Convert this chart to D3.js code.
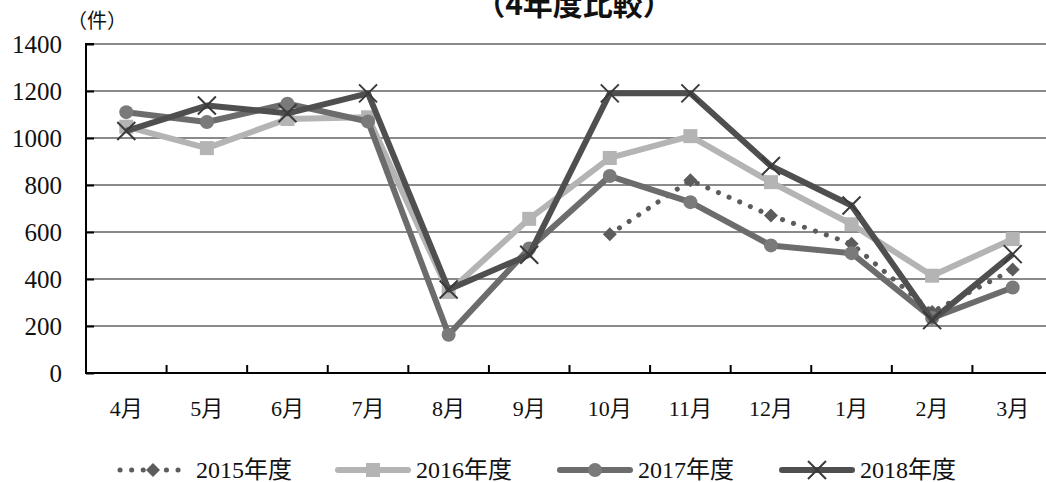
<!DOCTYPE html>
<html>
<head>
<meta charset="utf-8">
<script src="https://cdn.jsdelivr.net/npm/d3@7"></script>
<style>
  html, body { margin: 0; padding: 0; background: #fff; }
  svg { display: block; }
  .serif { font-family: "Liberation Serif", "DejaVu Serif", "Noto Sans CJK JP", serif; }
  .gothic { font-family: "Noto Sans CJK JP", "Noto Sans", sans-serif; }
</style>
</head>
<body>
<svg id="chart" width="1046" height="482"></svg>
<script>
const months = ["4月","5月","6月","7月","8月","9月","10月","11月","12月","1月","2月","3月"];
const yTicks = [0, 200, 400, 600, 800, 1000, 1200, 1400];
const seriesNames = ["2015年度","2016年度","2017年度","2018年度"];
const v2015 = [null, null, null, null, null, null, 590, 820, 670, 550, 260, 440];
const v2016 = [1048, 957, 1081, 1088, 345, 656, 915, 1008, 812, 633, 414, 570];
const v2017 = [1110, 1068, 1146, 1070, 163, 530, 838, 727, 543, 510, 234, 364];
const v2018 = [1030, 1138, 1105, 1190, 355, 503, 1190, 1190, 881, 713, 225, 506];
const titleText = "（4年度比較）";
const unitText = "（件）";

const svg = d3.select("#chart");

const x = d3.scaleBand().domain(months).range([86, 1053]).padding(0);
const y = d3.scaleLinear().domain([0, 1400]).range([373, 44]);

// title
svg.append("text").attr("class", "gothic").attr("x", 574).attr("y", 15).attr("text-anchor", "middle")
  .attr("font-weight", "bold").attr("font-size", 30).attr("fill", "#111").text(titleText);
svg.append("text").attr("class", "gothic").attr("x", 97).attr("y", 28).attr("text-anchor", "middle")
  .attr("font-size", 20).attr("fill", "#111").text(unitText);

// gridlines
svg.append("g").selectAll("line").data(yTicks.filter(d => d > 0)).join("line")
  .attr("x1", 86).attr("x2", 1046).attr("y1", d => y(d)).attr("y2", d => y(d))
  .attr("stroke", "#8a8a8a").attr("stroke-width", 2);

// y axis
const yAxis = d3.axisRight(y).tickValues(yTicks).tickSize(8).tickFormat("");
const gy = svg.append("g").attr("transform", "translate(86,0)").call(yAxis);
gy.selectAll("path,line").attr("stroke", "#000").attr("stroke-width", 2);
gy.select(".domain").attr("d", `M8,${y(1400)}H0V${y(0)}`);
svg.append("g").selectAll("text").data(yTicks).join("text").attr("class", "serif")
  .attr("x", 62).attr("y", d => y(d) + 9).attr("text-anchor", "end")
  .attr("font-size", 25).attr("fill", "#111")
  .text(d => d);

// x axis
const gx = svg.append("g").attr("transform", `translate(0,${y(0)})`);
gx.append("line").attr("x1", 85).attr("x2", 1046).attr("y1", 0).attr("y2", 0)
  .attr("stroke", "#000").attr("stroke-width", 2);
gx.selectAll("line.tk").data(months.slice(1)).join("line").attr("class", "tk")
  .attr("x1", d => x(d)).attr("x2", d => x(d)).attr("y1", 0).attr("y2", -8)
  .attr("stroke", "#000").attr("stroke-width", 2);
gx.selectAll("text").data(months).join("text").attr("class", "serif")
  .attr("x", d => x(d) + x.bandwidth() / 2).attr("y", 43).attr("text-anchor", "middle")
  .attr("font-size", 22).attr("fill", "#111").text(d => d);

const cx = i => x(months[i]) + x.bandwidth() / 2;

const series = [
  { name: seriesNames[0], values: v2015, color: "#5c5c5c", dash: "0.1 11.5", width: 5, marker: "diamond", mcolor: "#5c5c5c" },
  { name: seriesNames[1], values: v2016, color: "#b4b4b4", dash: null, width: 6, marker: "square", mcolor: "#b4b4b4" },
  { name: seriesNames[2], values: v2017, color: "#6c6c6c", dash: null, width: 6, marker: "circle", mcolor: "#7a7a7a" },
  { name: seriesNames[3], values: v2018, color: "#4f4f4f", dash: null, width: 6, marker: "x", mcolor: "#3a3a3a" }
];

function drawMarker(g, type, px, py, col) {
  if (type === "diamond") {
    g.append("path").attr("d", `M${px},${py-7}L${px+7},${py}L${px},${py+7}L${px-7},${py}Z`).attr("fill", col);
  } else if (type === "square") {
    g.append("rect").attr("x", px-7).attr("y", py-7).attr("width", 14).attr("height", 14).attr("fill", col);
  } else if (type === "circle") {
    g.append("circle").attr("cx", px).attr("cy", py).attr("r", 7).attr("fill", col);
  } else if (type === "x") {
    g.append("path").attr("d", `M${px-9},${py-9}L${px+9},${py+9}M${px-9},${py+9}L${px+9},${py-9}`)
      .attr("stroke", col).attr("stroke-width", 2).attr("fill", "none");
  }
}

const line = d3.line().defined(d => d.v != null).x(d => cx(d.i)).y(d => y(d.v));
series.forEach(s => {
  const pts = s.values.map((v, i) => ({ v, i }));
  const g = svg.append("g");
  g.append("path").datum(pts).attr("d", line).attr("fill", "none")
    .attr("stroke", s.color).attr("stroke-width", s.width)
    .attr("stroke-linecap", s.dash ? "round" : "butt").attr("stroke-linejoin", "round")
    .attr("stroke-dasharray", s.dash);
  pts.filter(d => d.v != null).forEach(d => drawMarker(g, s.marker, cx(d.i), y(d.v), s.mcolor));
});

// legend
const legendPos = [118, 338, 560, 782];
series.forEach((s, k) => {
  const g = svg.append("g");
  const lx = legendPos[k], ly = 470;
  g.append("line").attr("x1", lx + (s.dash ? 2 : 0)).attr("x2", lx + 70).attr("y1", ly).attr("y2", ly)
    .attr("stroke", s.color).attr("stroke-width", s.width)
    .attr("stroke-linecap", "round").attr("stroke-dasharray", s.dash);
  drawMarker(g, s.marker, lx + 35, ly, s.mcolor);
  g.append("text").attr("class", "serif").attr("x", lx + 78).attr("y", 478)
    .attr("font-size", 24).attr("fill", "#111").text(s.name);
});
</script>
</body>
</html>
